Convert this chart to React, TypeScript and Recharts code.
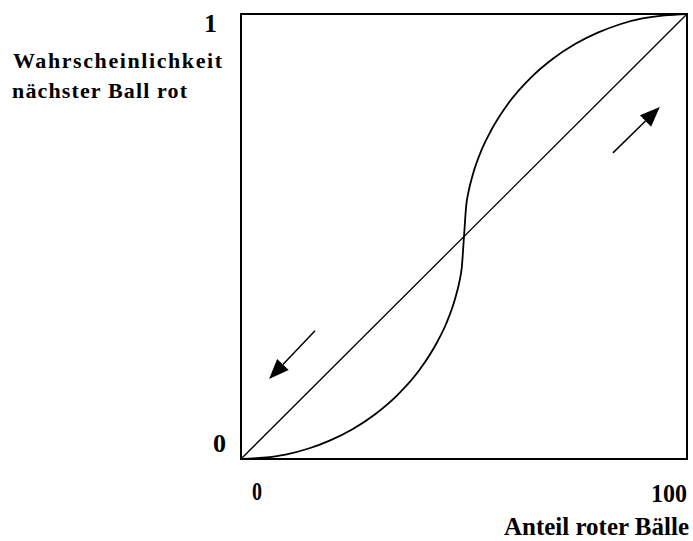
import { LineChart, Line, XAxis, YAxis, ReferenceLine, ReferenceArea } from 'recharts';

// S-shaped curve (x = share of red balls, y = probability)
const curveX = [0, 5, 10, 15, 20, 25, 30, 35, 40, 44, 46, 48, 49, 49.5, 50, 50.5, 51, 52, 54, 56, 60, 65, 70, 75, 80, 85, 90, 95, 100];
const curveY = [0, 0.003, 0.01, 0.023, 0.042, 0.067, 0.1, 0.143, 0.2, 0.263, 0.304, 0.36, 0.4, 0.43, 0.5, 0.57, 0.6, 0.64, 0.696, 0.737, 0.8, 0.857, 0.9, 0.933, 0.958, 0.977, 0.99, 0.997, 1];

// diagonal
const diagX = [0, 100];
const diagY = [0, 1];

// arrows: tail -> tip
const arrowTails = [[16.6, 0.288], [83.4, 0.688]];
const arrowTips = [[6.3, 0.18], [93.9, 0.791]];

const xTicks = [0, 100];
const yTicks = [0, 1];
const yTitle = ['Wahrscheinlichkeit', 'nächster Ball rot'];
const xTitle = 'Anteil roter Bälle';

const curveData = curveX.map((x, i) => ({ x, y: curveY[i] }));
const diagData = diagX.map((x, i) => ({ x, y: diagY[i] }));

const FONT = '"Liberation Serif", "Times New Roman", serif';

const YTick = (props: any) => {
  const { y, payload } = props;
  const one = payload.value === 1;
  return (
    <text x={one ? 217 : 226} y={one ? y + 18 : y - 7} textAnchor="end"
      fontFamily={FONT} fontWeight="bold" fontSize={26} fill="#000">
      {payload.value}
    </text>
  );
};

const XTick = (props: any) => {
  const { x, payload } = props;
  const first = payload.value === 0;
  return (
    <text x={first ? x + 16 : x - 12} y={first ? 500 : 502} textAnchor="middle"
      fontFamily={FONT} fontWeight="bold" fontSize={26} fill="#000"
      textLength={first ? 10 : 36} lengthAdjust="spacingAndGlyphs">
      {payload.value}
    </text>
  );
};

const Arrow = (p: any) => {
  const { x1, y1, x2, y2 } = p;
  const a = Math.atan2(y2 - y1, x2 - x1);
  const L = 20;
  const W = 8;
  const bx = x2 - L * Math.cos(a);
  const by = y2 - L * Math.sin(a);
  const nx = -Math.sin(a) * W;
  const ny = Math.cos(a) * W;
  return (
    <g>
      <line x1={x1} y1={y1} x2={bx} y2={by} stroke="#000" strokeWidth={1.5} />
      <polygon points={`${x2},${y2} ${bx + nx},${by + ny} ${bx - nx},${by - ny}`} fill="#000" />
    </g>
  );
};

export default function App() {
  return (
    <div style={{ position: 'absolute', left: 0, top: 0, width: 693, height: 541, background: '#fff' }}>
      <LineChart width={693} height={541} data={curveData}
        margin={{ top: 14, right: 6, left: 0, bottom: 0 }}>
        <XAxis type="number" dataKey="x" domain={[0, 100]} ticks={xTicks} height={82}
          axisLine={false} tickLine={false} tick={<XTick />}
          label={{
            content: () => (
              <text x={689} y={535} textAnchor="end" fontFamily={FONT} fontWeight="bold"
                fontSize={25} fill="#000" textLength={185} lengthAdjust="spacingAndGlyphs">
                {xTitle}
              </text>
            ),
          }}
        />
        <YAxis type="number" dataKey="y" domain={[0, 1]} ticks={yTicks} width={241}
          axisLine={false} tickLine={false} tick={<YTick />}
          label={{
            content: () => (
              <g>
                <text x={13} y={68} fontFamily={FONT} fontWeight="bold" fontSize={22} fill="#000"
                  textLength={209} lengthAdjust="spacing">{yTitle[0]}</text>
                <text x={12} y={98} fontFamily={FONT} fontWeight="bold" fontSize={22} fill="#000"
                  textLength={175} lengthAdjust="spacing">{yTitle[1]}</text>
              </g>
            ),
          }}
        />
        <ReferenceArea x1={0} x2={100} y1={0} y2={1} fill="none" stroke="#000" strokeWidth={2} />
        <Line data={diagData} dataKey="y" type="linear" stroke="#000" strokeWidth={1.3}
          dot={false} activeDot={false} isAnimationActive={false} />
        <Line dataKey="y" type="monotone" stroke="#000" strokeWidth={1.8}
          dot={false} activeDot={false} isAnimationActive={false} />
        {arrowTails.map((t, i) => (
          <ReferenceLine key={i}
            segment={[{ x: t[0], y: t[1] }, { x: arrowTips[i][0], y: arrowTips[i][1] }]}
            shape={(p: any) => <Arrow {...p} />} />
        ))}
      </LineChart>
    </div>
  );
}
